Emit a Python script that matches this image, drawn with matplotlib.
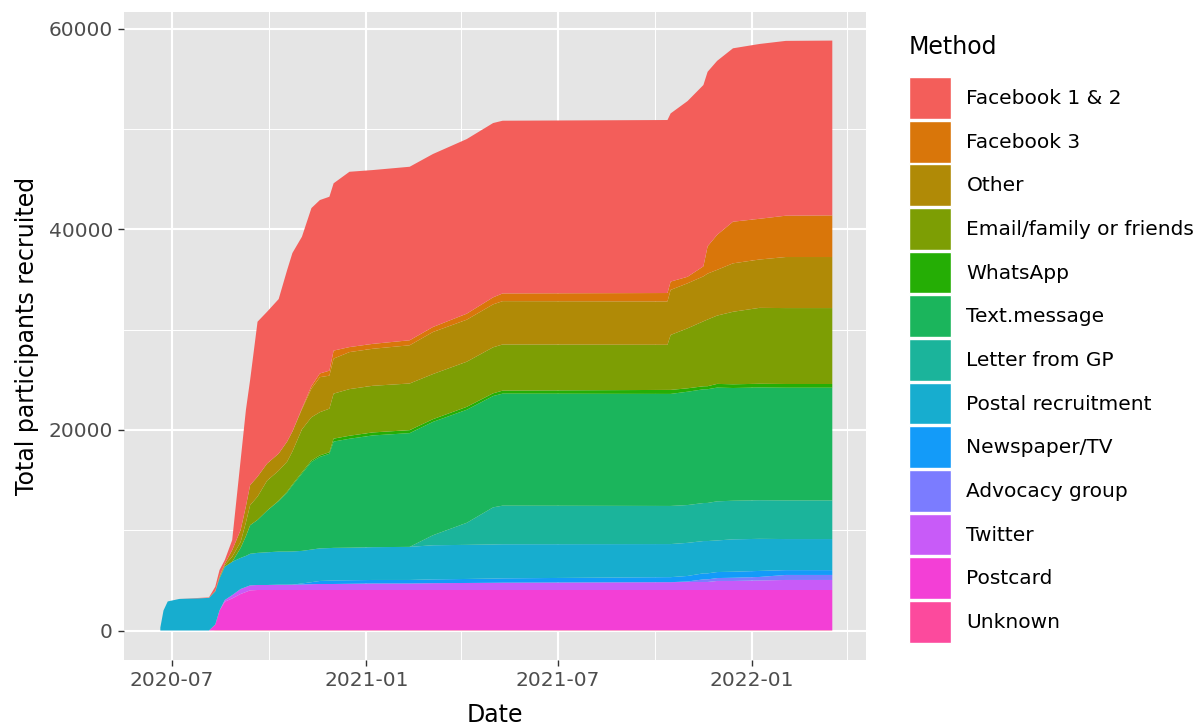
import numpy as np
import pandas as pd
import matplotlib
matplotlib.use("Agg")
import matplotlib.pyplot as plt
import matplotlib.dates as mdates
from matplotlib.patches import Patch

dates = pd.to_datetime([
    "2020-06-20", "2020-06-23", "2020-06-27", "2020-07-08", "2020-08-05",
    "2020-08-11", "2020-08-15", "2020-08-20", "2020-08-27", "2020-09-04",
    "2020-09-09", "2020-09-13", "2020-09-20", "2020-09-29", "2020-10-10",
    "2020-10-18", "2020-10-23", "2020-11-01", "2020-11-10", "2020-11-18",
    "2020-11-27", "2020-12-01", "2020-12-16", "2021-01-07", "2021-02-11",
    "2021-03-05", "2021-04-06", "2021-05-01", "2021-05-10", "2021-10-13",
    "2021-10-16", "2021-11-01", "2021-11-16", "2021-11-20", "2021-11-29",
    "2021-12-14", "2022-01-08", "2022-02-02", "2022-03-18",
])

# cumulative participants per method (stack bottom -> top)
unknown = [0] * 5 + [50] * 34
postcard = [0, 0, 0, 0, 0, 550, 1950, 2820, 3150, 3590, 3790, 3950] + [3990] * 27
twitter = [0, 0, 0, 0, 0, 0, 0, 170, 330, 500,
           500, 500, 500, 500, 530, 530, 540, 550, 580, 600,
           600, 600, 620, 650, 650, 680, 700, 720, 730, 780,
           780, 800, 800, 800, 900, 900, 950, 1000, 1000]
advocacy = [0] * 31 + [50, 260, 260, 290, 320, 350, 500, 500]
newspaper = [0] * 17 + [100, 200, 300, 330, 350, 350, 350, 350, 380, 400, 420, 430, 500,
                        500, 550, 600, 600, 600, 600, 600, 480, 480]
postal = [300, 2000, 2900, 3150, 3250, 3300, 3200, 3320, 3320, 3100,
          3100, 3150, 3200, 3260, 3300, 3300, 3300, 3250, 3250, 3250,
          3250, 3250, 3250, 3270, 3300, 3400, 3400, 3400, 3400, 3300,
          3300, 3300, 3220, 3220, 3150, 3230, 3200, 3100, 3100]
letter_gp = [0] * 25 + [1000, 2200, 3700, 3850, 3800,
                        3800, 3770, 3790, 3800, 3900, 3850, 3850, 3850, 3850]
text_msg = [0] * 9 + [1000, 1970, 2850, 3290, 4150, 5030, 5880, 6580, 7700, 8740, 9120,
                      9400, 10600, 10860, 11140, 11340, 11300, 11270, 11100, 11170, 11170,
                      11170, 11300, 11340, 11340, 11340, 11240, 11240, 11240, 11240]
whatsapp = [0] * 14 + [50, 100, 100, 120, 130, 150,
                       150, 290, 300, 300, 300, 270, 290, 270, 300, 400,
                       400, 340, 300, 300, 370, 370, 370, 370, 370]
email = [0, 0, 0, 0, 0, 50, 100, 150, 500, 590,
         1370, 2000, 2320, 2990, 2990, 2990, 3290, 4290, 4320, 4310,
         4350, 4490, 4650, 4650, 4650, 4500, 4500, 4590, 4600, 4500,
         5480, 5980, 6480, 6650, 6810, 7230, 7570, 7570, 7570]
other = [0, 0, 0, 0, 0, 0, 100, 150, 670, 1200,
         1620, 2000, 1990, 1700, 1700, 2000, 1990, 2000, 2860, 3490,
         3290, 3490, 3690, 3690, 3810, 4190, 4190, 4280, 4320, 4320,
         4490, 4490, 4480, 4580, 4560, 4830, 4820, 5090, 5090]
facebook_3 = [0] * 17 + [100, 250, 370,
                         500, 800, 500, 490, 500, 500, 600, 700, 770, 840,
                         830, 650, 1000, 2720, 3490, 4150, 4060, 4120, 4150]
facebook_12 = [0, 0, 0, 0, 50, 420, 630, 370, 1000, 6970,
               9600, 10500, 15450, 15140, 15410, 17100, 17800, 17110, 17750, 17290,
               17340, 16680, 17480, 17330, 17300, 17250, 17410, 17380, 17220, 17250,
               16770, 17520, 18080, 17400, 17350, 17290, 17430, 17430, 17430]

# legend order (top of stack first)
methods = ["Facebook 1 & 2", "Facebook 3", "Other", "Email/family or friends", "WhatsApp",
           "Text.message", "Letter from GP", "Postal recruitment", "Newspaper/TV",
           "Advocacy group", "Twitter", "Postcard", "Unknown"]
colors = ["#F35E5A", "#D9760A", "#B08A06", "#7D9E04", "#25AE05",
          "#1BB55C", "#1BB49B", "#17ADCF", "#139BF9",
          "#7B7CFF", "#C85BF8", "#F33FD6", "#FC4A9D"]

series = [facebook_12, facebook_3, other, email, whatsapp, text_msg, letter_gp,
          postal, newspaper, advocacy, twitter, postcard, unknown]

fig = plt.figure(figsize=(12.01, 7.28), dpi=100)
ax = fig.add_axes([124 / 1201, 1 - 660 / 728, (866 - 124) / 1201, (660 - 12) / 728])

# stackplot puts the first series at the bottom, so reverse
ax.stackplot(dates, *[np.array(s) for s in series[::-1]], colors=colors[::-1], lw=0)

ax.set_facecolor("#E5E5E5")
for sp in ax.spines.values():
    sp.set_visible(False)

x0 = mdates.date2num(pd.Timestamp("2020-07-01"))
ax.set_xlim(x0 - 45.4, x0 + 656.9)
ax.set_ylim(-2940, 61670)

ax.xaxis.set_major_locator(mdates.MonthLocator(bymonth=[1, 7]))
ax.xaxis.set_minor_locator(mdates.MonthLocator(bymonth=[4, 10]))
ax.xaxis.set_major_formatter(mdates.DateFormatter("%Y-%m"))
ax.set_yticks([0, 20000, 40000, 60000])
ax.set_yticks([10000, 30000, 50000], minor=True)

ax.set_axisbelow(True)
ax.grid(which="major", color="white", lw=1.5)
ax.grid(which="minor", color="white", lw=0.7)

ax.tick_params(which="major", length=4, width=1, color="#333333", labelcolor="#4D4D4D",
               labelsize=14.5, pad=4)
ax.tick_params(which="minor", length=0)

ax.set_xlabel("Date", fontsize=17, labelpad=9)
ax.set_ylabel("Total participants recruited", fontsize=17, labelpad=7)

# legend: title as its own text so the gap to the keys matches
fig.text(909 / 1201, 1 - 47 / 728, "Method", fontsize=17, ha="left", va="center")
handles = [Patch(facecolor=c, edgecolor="white", lw=1) for c in colors]
leg = fig.legend(handles, methods, loc="upper left",
                 bbox_to_anchor=(909 / 1201, 1 - 77 / 728), frameon=False,
                 fontsize=14.5, handlelength=2.1, handleheight=2.82,
                 labelspacing=0.09, handletextpad=0.75, borderpad=0, borderaxespad=0)

fig.savefig("out.png", dpi=100)
